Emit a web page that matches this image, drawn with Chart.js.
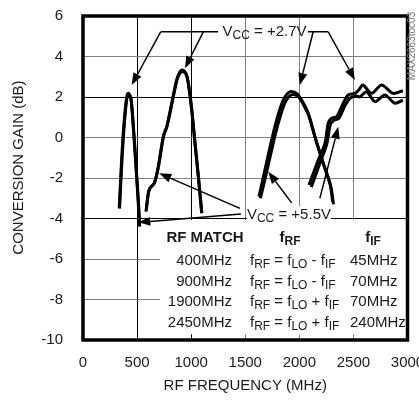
<!DOCTYPE html>
<html>
<head>
<meta charset="utf-8">
<script src="https://cdn.jsdelivr.net/npm/chart.js@4.4.1/dist/chart.umd.min.js"></script>
<style>
    html, body { margin: 0; padding: 0; background: #fff; }
    #gainChart { display: block; }
</style>
</head>
<body>
<canvas id="gainChart" width="419" height="400"></canvas>
<script>
// --- data (MHz, dB) ---
const f400_27 = [335, 357, 379, 404, 419, 441, 465, 490, 511, 521];
const g400_27 = [-3.5, -1.1, 0.7, 2.0, 2.18, 2.0, 0.5, -1.45, -3.25, -4.35];
const f400_55 = [338, 360, 382, 406, 422, 444, 468, 492, 514, 524];
const g400_55 = [-3.5, -1.15, 0.65, 1.95, 2.1, 1.9, 0.4, -1.55, -3.3, -4.4];

const f900_27 = [582, 603, 619, 659, 696, 742, 774, 820, 866, 896, 921, 952, 973, 1005, 1035, 1066, 1097];
const g900_27 = [-3.66, -2.76, -2.51, -2.26, -1.44, 0.04, 0.53, 1.69, 2.84, 3.25, 3.33, 3.17, 2.68, 1.36, -0.29, -1.94, -3.74];
const f900_55 = [585, 606, 622, 662, 699, 745, 777, 824, 870, 900, 925, 955, 976, 1007, 1037, 1068, 1099];
const g900_55 = [-3.6, -2.72, -2.48, -2.22, -1.4, 0.08, 0.56, 1.72, 2.86, 3.2, 3.26, 3.1, 2.62, 1.3, -0.33, -1.98, -3.74];

const f1900_27 = [1627, 1682, 1744, 1790, 1851, 1913, 1975, 2021, 2082, 2144, 2221, 2283, 2308];
const g1900_27 = [-2.92, -1.6, -0.12, 0.86, 1.85, 2.26, 2.18, 1.85, 1.2, 0.04, -1.27, -2.26, -3.17];
const f1900_55 = [1640, 1698, 1760, 1806, 1866, 1925, 1985, 2030, 2092, 2154, 2232, 2292, 2316];
const g1900_55 = [-3.0, -1.7, -0.25, 0.72, 1.7, 2.1, 2.05, 1.7, 1.0, -0.15, -1.45, -2.45, -3.3];

const f2450_27 = [2089, 2175, 2237, 2267, 2299, 2345, 2406, 2452, 2514, 2550, 2588, 2668, 2761, 2865, 2957];
const g2450_27 = [-2.35, -1.11, -0.29, 0.7, 0.95, 1.03, 1.69, 2.1, 2.18, 2.35, 2.59, 2.18, 2.59, 2.18, 2.31];
const f2450_55 = [2110, 2195, 2255, 2285, 2318, 2365, 2425, 2470, 2525, 2560, 2622, 2699, 2791, 2883, 2957];
const g2450_55 = [-2.45, -1.2, -0.3, 0.6, 0.85, 0.95, 1.6, 1.95, 2.05, 2.01, 2.26, 1.77, 2.1, 1.69, 1.85];

const xTickLabels = ['0', '500', '1000', '1500', '2000', '2500', '3000'];
const yTickLabels = ['-10', '-8', '-6', '-4', '-2', '0', '2', '4', '6'];

// table text
const matchCol = ['400MHz', '900MHz', '1900MHz', '2450MHz'];
const formulaSign = ['-', '-', '+', '+'];
const ifCol = ['45MHz', '70MHz', '70MHz', '240MHz'];

const FAMILY = "'Liberation Sans', Arial, sans-serif";
const INK = '#1a1a1a';

Chart.defaults.font.family = FAMILY;
Chart.defaults.font.size = 15;
Chart.defaults.color = INK;

function series(xs, ys) {
    return {
        data: xs.map((x, i) => ({ x: x, y: ys[i] })),
        borderColor: '#000',
        borderWidth: 3,
        pointRadius: 0,
        tension: 0.3,
        fill: false
    };
}

function arrow(ctx, x1, y1, x2, y2) {
    const ang = Math.atan2(y2 - y1, x2 - x1);
    const len = 12, half = 4.5;
    const bx = x2 - len * Math.cos(ang), by = y2 - len * Math.sin(ang);
    ctx.beginPath();
    ctx.moveTo(x1, y1);
    ctx.lineTo(bx, by);
    ctx.stroke();
    ctx.beginPath();
    ctx.moveTo(x2, y2);
    ctx.lineTo(bx + half * Math.sin(ang), by - half * Math.cos(ang));
    ctx.lineTo(bx - half * Math.sin(ang), by + half * Math.cos(ang));
    ctx.closePath();
    ctx.fill();
}

// parts: [text, isSubscript]
function richText(ctx, parts, x, y, align, bold) {
    const w = bold ? 'bold ' : '';
    const main = w + '15px ' + FAMILY, sub = w + '12px ' + FAMILY;
    const widths = parts.map(p => { ctx.font = p[1] ? sub : main; return ctx.measureText(p[0]).width; });
    const total = widths.reduce((a, b) => a + b, 0);
    let cx = align === 'center' ? x - total / 2 : (align === 'right' ? x - total : x);
    ctx.textAlign = 'left';
    ctx.textBaseline = 'middle';
    parts.forEach((p, i) => {
        ctx.font = p[1] ? sub : main;
        ctx.fillText(p[0], cx, p[1] ? y + 4 : y);
        cx += widths[i];
    });
    return total;
}

const overlay = {
    id: 'overlay',
    beforeDatasetsDraw(chart) {
        const { ctx, scales: { x, y } } = chart;
        ctx.save();
        ctx.fillStyle = '#fff';
        // table panel hides the grid
        const tl = x.getPixelForValue(712), tt = y.getPixelForValue(-4.07);
        ctx.fillRect(tl, tt, chart.chartArea.right - tl, y.getPixelForValue(-9.72) - tt);
        // label background
        const px = x.getPixelForValue(1904), py = y.getPixelForValue(-3.83);
        ctx.fillRect(px - 42, py - 9, 84, 18);
        ctx.restore();
    },
    afterDatasetsDraw(chart) {
        const { ctx, chartArea: a, scales: { x, y } } = chart;
        const X = v => x.getPixelForValue(v), Y = v => y.getPixelForValue(v);
        ctx.save();
        ctx.strokeStyle = '#000';
        ctx.fillStyle = '#000';
        ctx.lineWidth = 1.5;

        // VCC = +2.7V callout
        const ly = Y(5.22);
        ctx.beginPath();
        ctx.moveTo(X(718), ly); ctx.lineTo(X(1248), ly);
        ctx.moveTo(X(2080), ly); ctx.lineTo(X(2267), ly);
        ctx.stroke();
        arrow(ctx, X(718), ly, X(450), Y(2.59));
        arrow(ctx, X(1112), ly, X(943), Y(3.42));
        arrow(ctx, X(2128), ly, X(2005), Y(2.59));
        arrow(ctx, X(2267), ly, X(2514), Y(2.84));

        // VCC = +5.5V callout
        arrow(ctx, X(1460), Y(-3.78), X(511), Y(-4.19));
        arrow(ctx, X(1451), Y(-3.5), X(705), Y(-1.77));
        arrow(ctx, X(1929), Y(-3.23), X(1713), Y(-1.69));
        arrow(ctx, X(2190), Y(-3.0), X(2360), Y(0.53));

        ctx.fillStyle = INK;
        richText(ctx, [['V', 0], ['CC', 1], [' = +2.7V', 0]], X(1678), ly, 'center');
        richText(ctx, [['V', 0], ['CC', 1], [' = +5.5V', 0]], X(1904), Y(-3.83), 'center');

        // table
        const headY = a.top + 222;
        richText(ctx, [['RF MATCH', 0]], a.left + 122, headY, 'center', true);
        richText(ctx, [['f', 0], ['RF', 1]], a.left + 207, headY, 'center', true);
        richText(ctx, [['f', 0], ['IF', 1]], a.left + 290, headY, 'center', true);
        const rowY = [245, 265.5, 286, 306.5];
        matchCol.forEach((m, i) => {
            const ry = a.top + rowY[i];
            richText(ctx, [[m, 0]], a.left + 149, ry, 'right');
            richText(ctx, [['f', 0], ['RF', 1], [' = ', 0], ['f', 0], ['LO', 1], [' ' + formulaSign[i] + ' ', 0], ['f', 0], ['IF', 1]], a.left + 167, ry, 'left');
            richText(ctx, [[ifCol[i], 0]], a.left + 267, ry, 'left');
        });

        // frame
        ctx.lineWidth = 3.5;
        ctx.strokeStyle = '#000';
        ctx.strokeRect(a.left, a.top, a.right - a.left, a.bottom - a.top);

        // figure id
        ctx.translate(412, 46);
        ctx.rotate(-Math.PI / 2);
        ctx.font = '10px ' + FAMILY;
        ctx.fillStyle = '#777';
        ctx.textAlign = 'center';
        ctx.textBaseline = 'middle';
        ctx.fillText('MAX2663toc03', 0, 0);
        ctx.restore();
    }
};

document.addEventListener('DOMContentLoaded', function() {
    const ctx = document.getElementById('gainChart');
    new Chart(ctx, {
        type: 'line',
        data: {
            datasets: [
                series(f400_27, g400_27), series(f400_55, g400_55),
                series(f900_27, g900_27), series(f900_55, g900_55),
                series(f1900_27, g1900_27), series(f1900_55, g1900_55),
                series(f2450_27, g2450_27), series(f2450_55, g2450_55)
            ]
        },
        options: {
            responsive: false,
            animation: false,
            layout: { padding: { left: 0, top: 16, right: 11.5, bottom: 0 } },
            plugins: {
                legend: { display: false },
                tooltip: { enabled: false }
            },
            scales: {
                x: {
                    type: 'linear',
                    min: 0,
                    max: 3000,
                    ticks: {
                        stepSize: 500,
                        padding: 14,
                        maxRotation: 0,
                        callback: (v) => xTickLabels[Math.round(v / 500)]
                    },
                    grid: {
                        drawTicks: false,
                        lineWidth: 1,
                        color: (c) => (c.tick && (c.tick.value === 500 || c.tick.value === 1000)) ? '#000' : '#808080'
                    },
                    border: { display: false },
                    title: { display: true, text: 'RF FREQUENCY (MHz)', padding: { top: 0, bottom: 5 } },
                    afterFit(s) { s.height = 60; s.paddingLeft = 0; s.paddingRight = 0; }
                },
                y: {
                    min: -10,
                    max: 6,
                    ticks: {
                        stepSize: 2,
                        padding: 20,
                        callback: (v) => yTickLabels[Math.round((v + 10) / 2)]
                    },
                    grid: {
                        drawTicks: false,
                        lineWidth: 1,
                        color: (c) => (c.tick && (c.tick.value === 2 || c.tick.value === -4)) ? '#000' : '#808080'
                    },
                    border: { display: false },
                    title: { display: true, text: '     CONVERSION GAIN (dB)', padding: { top: 10, bottom: 0 } },
                    afterFit(s) { s.width = 83; s.paddingTop = 0; s.paddingBottom = 0; }
                }
            }
        },
        plugins: [overlay]
    });
});
</script>
</body>
</html>
